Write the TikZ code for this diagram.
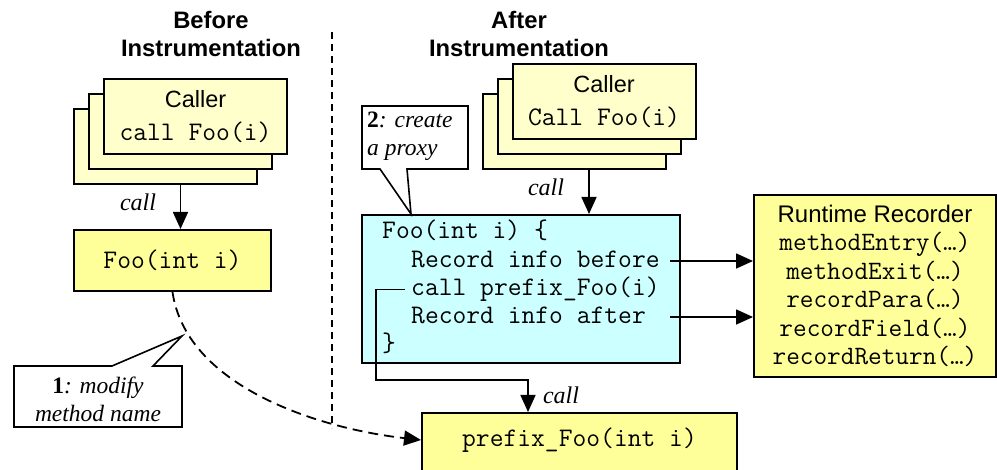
\documentclass[tikz,border=0pt]{standalone}
\usepackage{fontspec}
\setmainfont{Liberation Serif}
\setsansfont{Liberation Sans}
\usetikzlibrary{arrows.meta}
\definecolor{paleyellow}{HTML}{FFFFCC}
\definecolor{boxyellow}{HTML}{FFFF99}
\definecolor{proxycyan}{HTML}{CCFFFF}
\newcommand{\codesize}{\fontsize{26.8}{28}\selectfont}
\tikzset{
  box/.style={draw=black, line width=2pt, inner sep=0pt},
  callerbox/.style={box, fill=paleyellow, minimum width=183, minimum height=75,
    align=center, font=\sffamily\fontsize{23.5}{33}\selectfont},
  ybox/.style={box, fill=boxyellow},
  arr/.style={line width=1.6pt, -{Triangle[length=17pt,width=15pt]}},
  codeline/.style={anchor=base west, inner sep=0pt, font=\ttfamily\codesize},
  calllabel/.style={font=\itshape\fontsize{24}{28}\selectfont, inner sep=0pt},
  heading/.style={align=center, font=\sffamily\bfseries\fontsize{23.8}{28}\selectfont},
  callout/.style={draw=black, line width=1.6pt, fill=white, line join=miter},
  noteText/.style={font=\fontsize{23.5}{28}\selectfont, inner sep=0pt},
}
\begin{document}
\begin{tikzpicture}[x=1pt, y=-1pt]
\useasboundingbox (0,0) rectangle (997,470);
\clip (0,0) rectangle (997,470);

% headings and separator
\node[heading] (hbefore) at (211,34) {Before\\Instrumentation};
\node[heading] (hafter) at (519,34) {After\\Instrumentation};
\coordinate (sepTop) at (332,32);
\coordinate (sepBot) at (332,428);
\draw[line width=1.8pt, dash pattern=on 7pt off 5pt] (sepTop) -- (sepBot);

% ---------- before instrumentation ----------
\node[callerbox] (lcb) at (165.5,146.5) {};
\node[callerbox] (lcm) at (180.5,131.5) {};
\node[callerbox] (lcf) at (195.5,116.5) {Caller\\{\ttfamily\codesize call Foo(i)}};

\node[ybox, minimum width=197, minimum height=61, font=\ttfamily\codesize]
  (lfoo) at (172.5,260.5) {Foo(int i)};
\draw[arr] (lcm.south |- lcb.south) -- (lcm.south |- lfoo.north);
\node[calllabel] (lcall) at (138,202) {call};

% ---------- after instrumentation ----------
\node[callerbox] (rcb) at (574,131.5) {};
\node[callerbox] (rcm) at (589,116.5) {};
\node[callerbox] (rcf) at (604,101.5) {Caller\\{\ttfamily\codesize Call Foo(i)}};

% proxy method
\node[box, fill=proxycyan, minimum width=318, minimum height=148] (proxy) at (521,289) {};
\node[codeline] (psig)    at (382,239) {Foo(int i) \{};
\node[codeline] (pbefore) at (411,268) {Record info before};
\node[codeline] (pcall)   at (411,296) {call prefix\_Foo(i)};
\node[codeline] (pafter)  at (411,324) {Record info after};
\node[codeline] (pend)    at (382,352) {\}};

\draw[arr] (rcm.south |- rcb.south) -- (rcm.south |- proxy.north);
\node[calllabel] (rcall) at (546,187) {call};

% runtime recorder
\node[ybox, minimum width=242, minimum height=182, align=center,
      font=\ttfamily\fontsize{26.5}{28.5}\selectfont] (rec) at (875,286)
  {{\sffamily\fontsize{24}{28.5}\selectfont Runtime Recorder}\\methodEntry(…)\\methodExit(…)\\recordPara(…)\\recordField(…)\\recordReturn(…)};

\coordinate (beforeOut) at (670,261);
\coordinate (afterOut) at (670,317);
\draw[arr] (beforeOut) -- (beforeOut -| rec.west);
\draw[arr] (afterOut) -- (afterOut -| rec.west);

% renamed original method
\node[ybox, minimum width=315, minimum height=70, anchor=north] (pfx) at (579.5,412) {};
\node[font=\ttfamily\codesize, inner sep=0pt] (pfxt) at (579.5,440) {prefix\_Foo(int i)};

\coordinate (callBend) at (376,380);
\coordinate (callIn) at (528,412);
\draw[arr, line join=miter] ([xshift=-6pt]pcall.west) -| (callBend) -| (callIn);
\node[calllabel] (bcall) at (561,395) {call};

% dashed link: original method renamed
\draw[line width=1.8pt, dash pattern=on 10pt off 6pt, -{Triangle[length=17pt,width=15pt]}]
  (lfoo.south) .. controls (186,385) and (315,428) .. (pfx.west |- pfxt);

% callout 1
\draw[callout] (14,366) -- (112,366) -- (182,336) -- (153,366) -- (182,366)
  -- (182,427) -- (14,427) -- cycle;
\node[noteText, align=center] (note1) at (98,399) {\textbf{1}\textit{: modify}\\\textit{method name}};

% callout 2
\draw[callout] (362,106) -- (468,106) -- (468,169) -- (407,169) -- (411,214)
  -- (380,169) -- (362,169) -- cycle;
\node[noteText, align=left, anchor=north west] (note2) at (367,112) {\textbf{2}\textit{: create}\\\textit{a proxy}};
\end{tikzpicture}
\end{document}
